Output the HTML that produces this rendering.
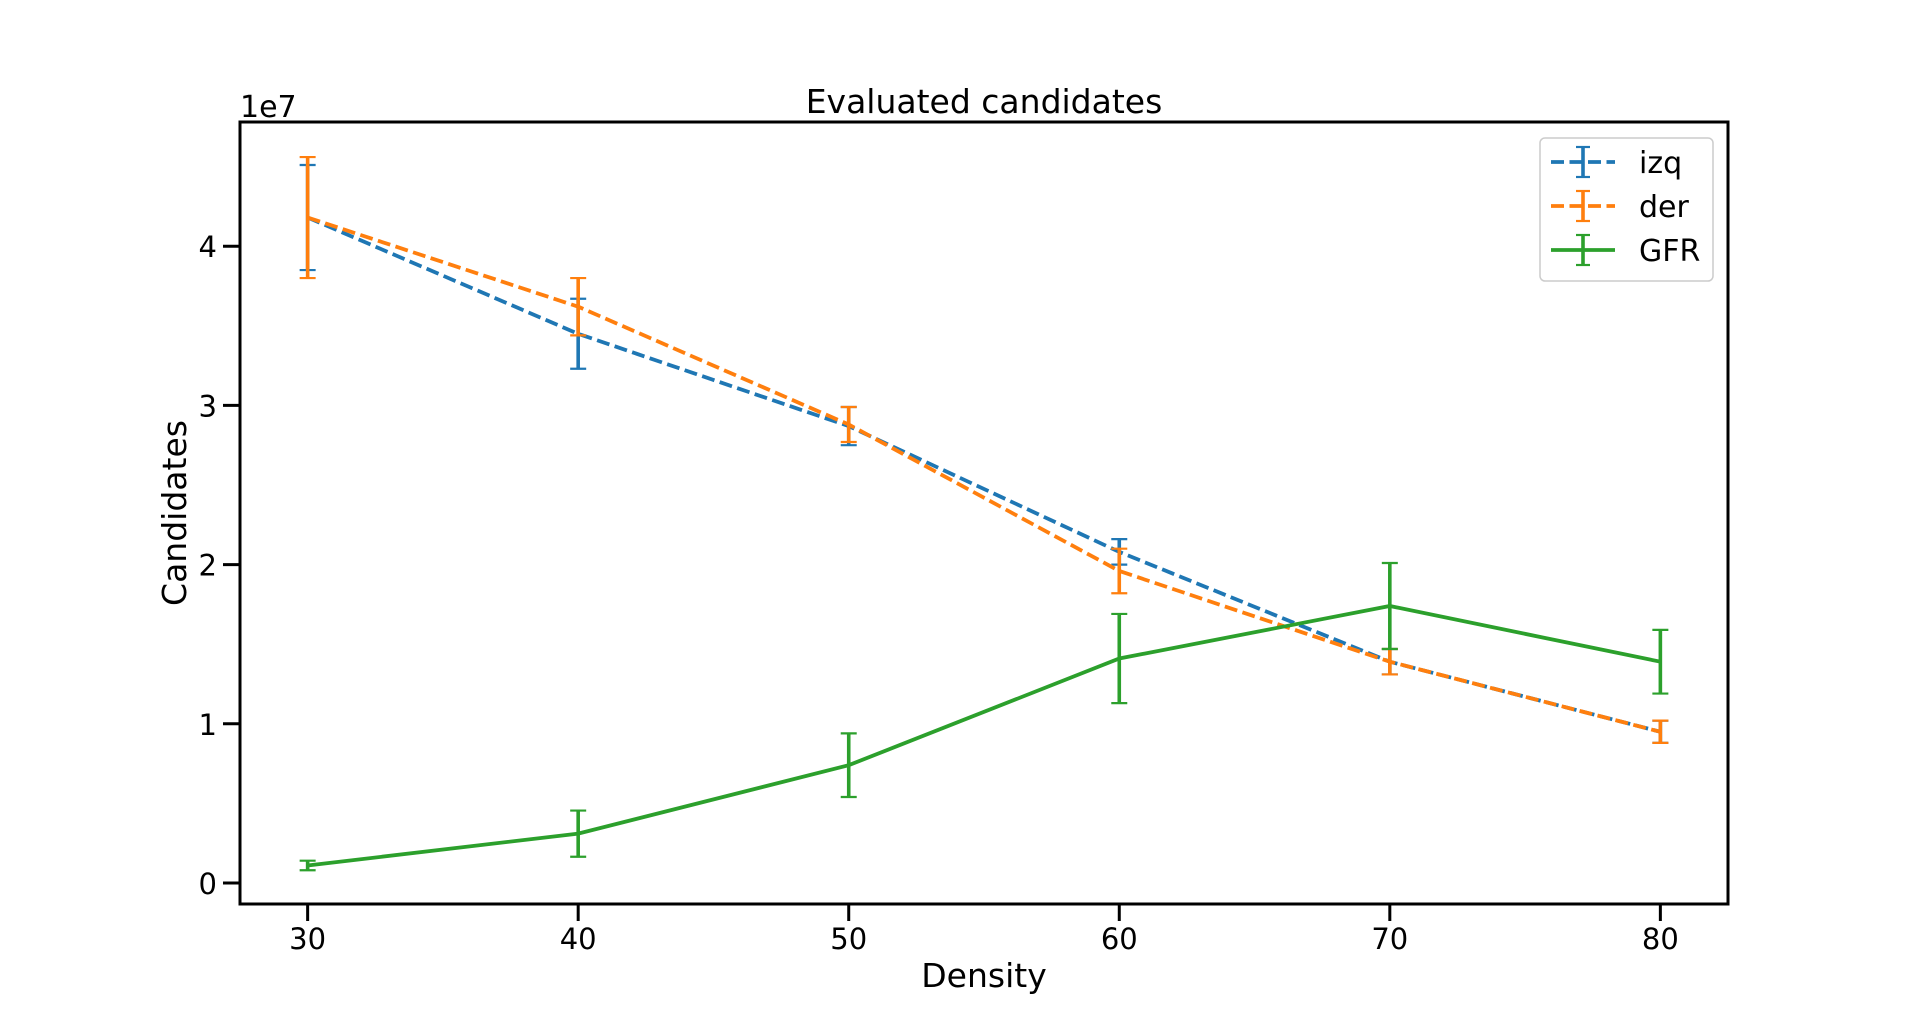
<!DOCTYPE html>
<html><head><meta charset="utf-8"><style>
html,body{margin:0;padding:0;background:#fff;}
svg{display:block;font-family:"DejaVu Sans","Liberation Sans",sans-serif;}
</style></head><body>
<svg id="chart" width="1920" height="1017" viewBox="0 0 1920 1017" xmlns="http://www.w3.org/2000/svg">
<rect width="1920" height="1017" fill="#fff"/>
<g id="plot"></g>
<text x="984" y="113" font-size="33" text-anchor="middle">Evaluated candidates</text>
<text x="984" y="987" font-size="33" text-anchor="middle">Density</text>
<text x="0" y="0" font-size="33" text-anchor="middle" transform="translate(186,513) rotate(-90)">Candidates</text>
<text x="240" y="117" font-size="30">1e7</text>
</svg>
<script>
const categories = [30, 40, 50, 60, 70, 80];
const izqValues = [4.18, 3.45, 2.87, 2.08, 1.39, 0.95];
const izqErrors = [0.33, 0.22, 0.12, 0.08, 0.08, 0.07];
const derValues = [4.18, 3.62, 2.88, 1.96, 1.39, 0.95];
const derErrors = [0.38, 0.18, 0.11, 0.14, 0.08, 0.07];
const gfrValues = [0.11, 0.31, 0.74, 1.41, 1.74, 1.39];
const gfrErrors = [0.03, 0.145, 0.2, 0.28, 0.27, 0.2];
const xTicks = [30, 40, 50, 60, 70, 80];
const yTicks = [0, 1, 2, 3, 4];
const seriesNames = ["izq", "der", "GFR"];

const NS = "http://www.w3.org/2000/svg";
const L = 240, R = 1728, T = 122, B = 904;
const xMin = 27.5, xMax = 82.5;
const y0px = 883, yUnit = 159.2;
function xs(v){ return L + (v - xMin) / (xMax - xMin) * (R - L); }
function ys(v){ return y0px - v * yUnit; }
const plot = document.getElementById('plot');
function mk(tag, attrs, parent){
  const e = document.createElementNS(NS, tag);
  for (const k in attrs) e.setAttribute(k, attrs[k]);
  (parent || plot).appendChild(e);
  return e;
}
const colors = ["#1f77b4", "#ff7f0e", "#2ca02c"];
const vals = [izqValues, derValues, gfrValues];
const errs = [izqErrors, derErrors, gfrErrors];
const dashes = ["13,5.5", "13,5.5", null];

for (let s = 0; s < 3; s++) {
  const g = mk('g', {});
  
  
  const pts = categories.map((c, i) => xs(c).toFixed(1) + ',' + ys(vals[s][i]).toFixed(1)).join(' ');
  const line = mk('polyline', {points: pts, fill: 'none', stroke: colors[s], 'stroke-width': 3.8}, g);
  if (dashes[s]) line.setAttribute('stroke-dasharray', dashes[s]);
  
  
  categories.forEach((c, i) => {
    const x = xs(c), yt = ys(vals[s][i] + errs[s][i]), yb = ys(vals[s][i] - errs[s][i]);
    const eb = mk('g', {stroke: colors[s]}, g);
    
    
    mk('line', {x1: x, x2: x, y1: yt, y2: yb, 'stroke-width': 3.6}, eb);
    mk('line', {x1: x - 8, x2: x + 8, y1: yt, y2: yt, 'stroke-width': 2.2}, eb);
    mk('line', {x1: x - 8, x2: x + 8, y1: yb, y2: yb, 'stroke-width': 2.2}, eb);
  });
}

const frame = mk('rect', {x: L, y: T, width: R - L, height: B - T, fill: 'none', stroke: '#000', 'stroke-width': 3});



xTicks.forEach(v => {
  const x = xs(v);
  const t = mk('line', {x1: x, x2: x, y1: B, y2: B + 17, stroke: '#000', 'stroke-width': 3});
  
  
  const lb = mk('text', {x: x, y: 949, 'font-size': 29, 'text-anchor': 'middle'});
  lb.textContent = v;
  
  
});
yTicks.forEach(v => {
  const y = ys(v);
  const t = mk('line', {x1: L - 17, x2: L, y1: y, y2: y, stroke: '#000', 'stroke-width': 3});
  
  
  const lb = mk('text', {x: 217, y: y + 11, 'font-size': 29, 'text-anchor': 'end'});
  lb.textContent = v;
  
  
});

const lg = mk('g', {});


mk('rect', {x: 1540, y: 138, width: 173, height: 143, rx: 5, fill: '#fff', 'fill-opacity': 0.8, stroke: '#ccc', 'stroke-width': 1.5}, lg);
seriesNames.forEach((n, i) => {
  const y = 162 + i * 44;
  const e = mk('g', {}, lg);
  
  
  const ln = mk('line', {x1: 1551, x2: 1615, y1: y, y2: y, stroke: colors[i], 'stroke-width': 3.8}, e);
  if (dashes[i]) ln.setAttribute('stroke-dasharray', '13,5.5');
  mk('line', {x1: 1583, x2: 1583, y1: y - 15, y2: y + 15, stroke: colors[i], 'stroke-width': 3.6}, e);
  mk('line', {x1: 1576, x2: 1590, y1: y - 15, y2: y - 15, stroke: colors[i], 'stroke-width': 2.2}, e);
  mk('line', {x1: 1576, x2: 1590, y1: y + 15, y2: y + 15, stroke: colors[i], 'stroke-width': 2.2}, e);
  const t = mk('text', {x: 1639, y: y + 11, 'font-size': 30}, e);
  t.textContent = n;
});
</script>
</body></html>
